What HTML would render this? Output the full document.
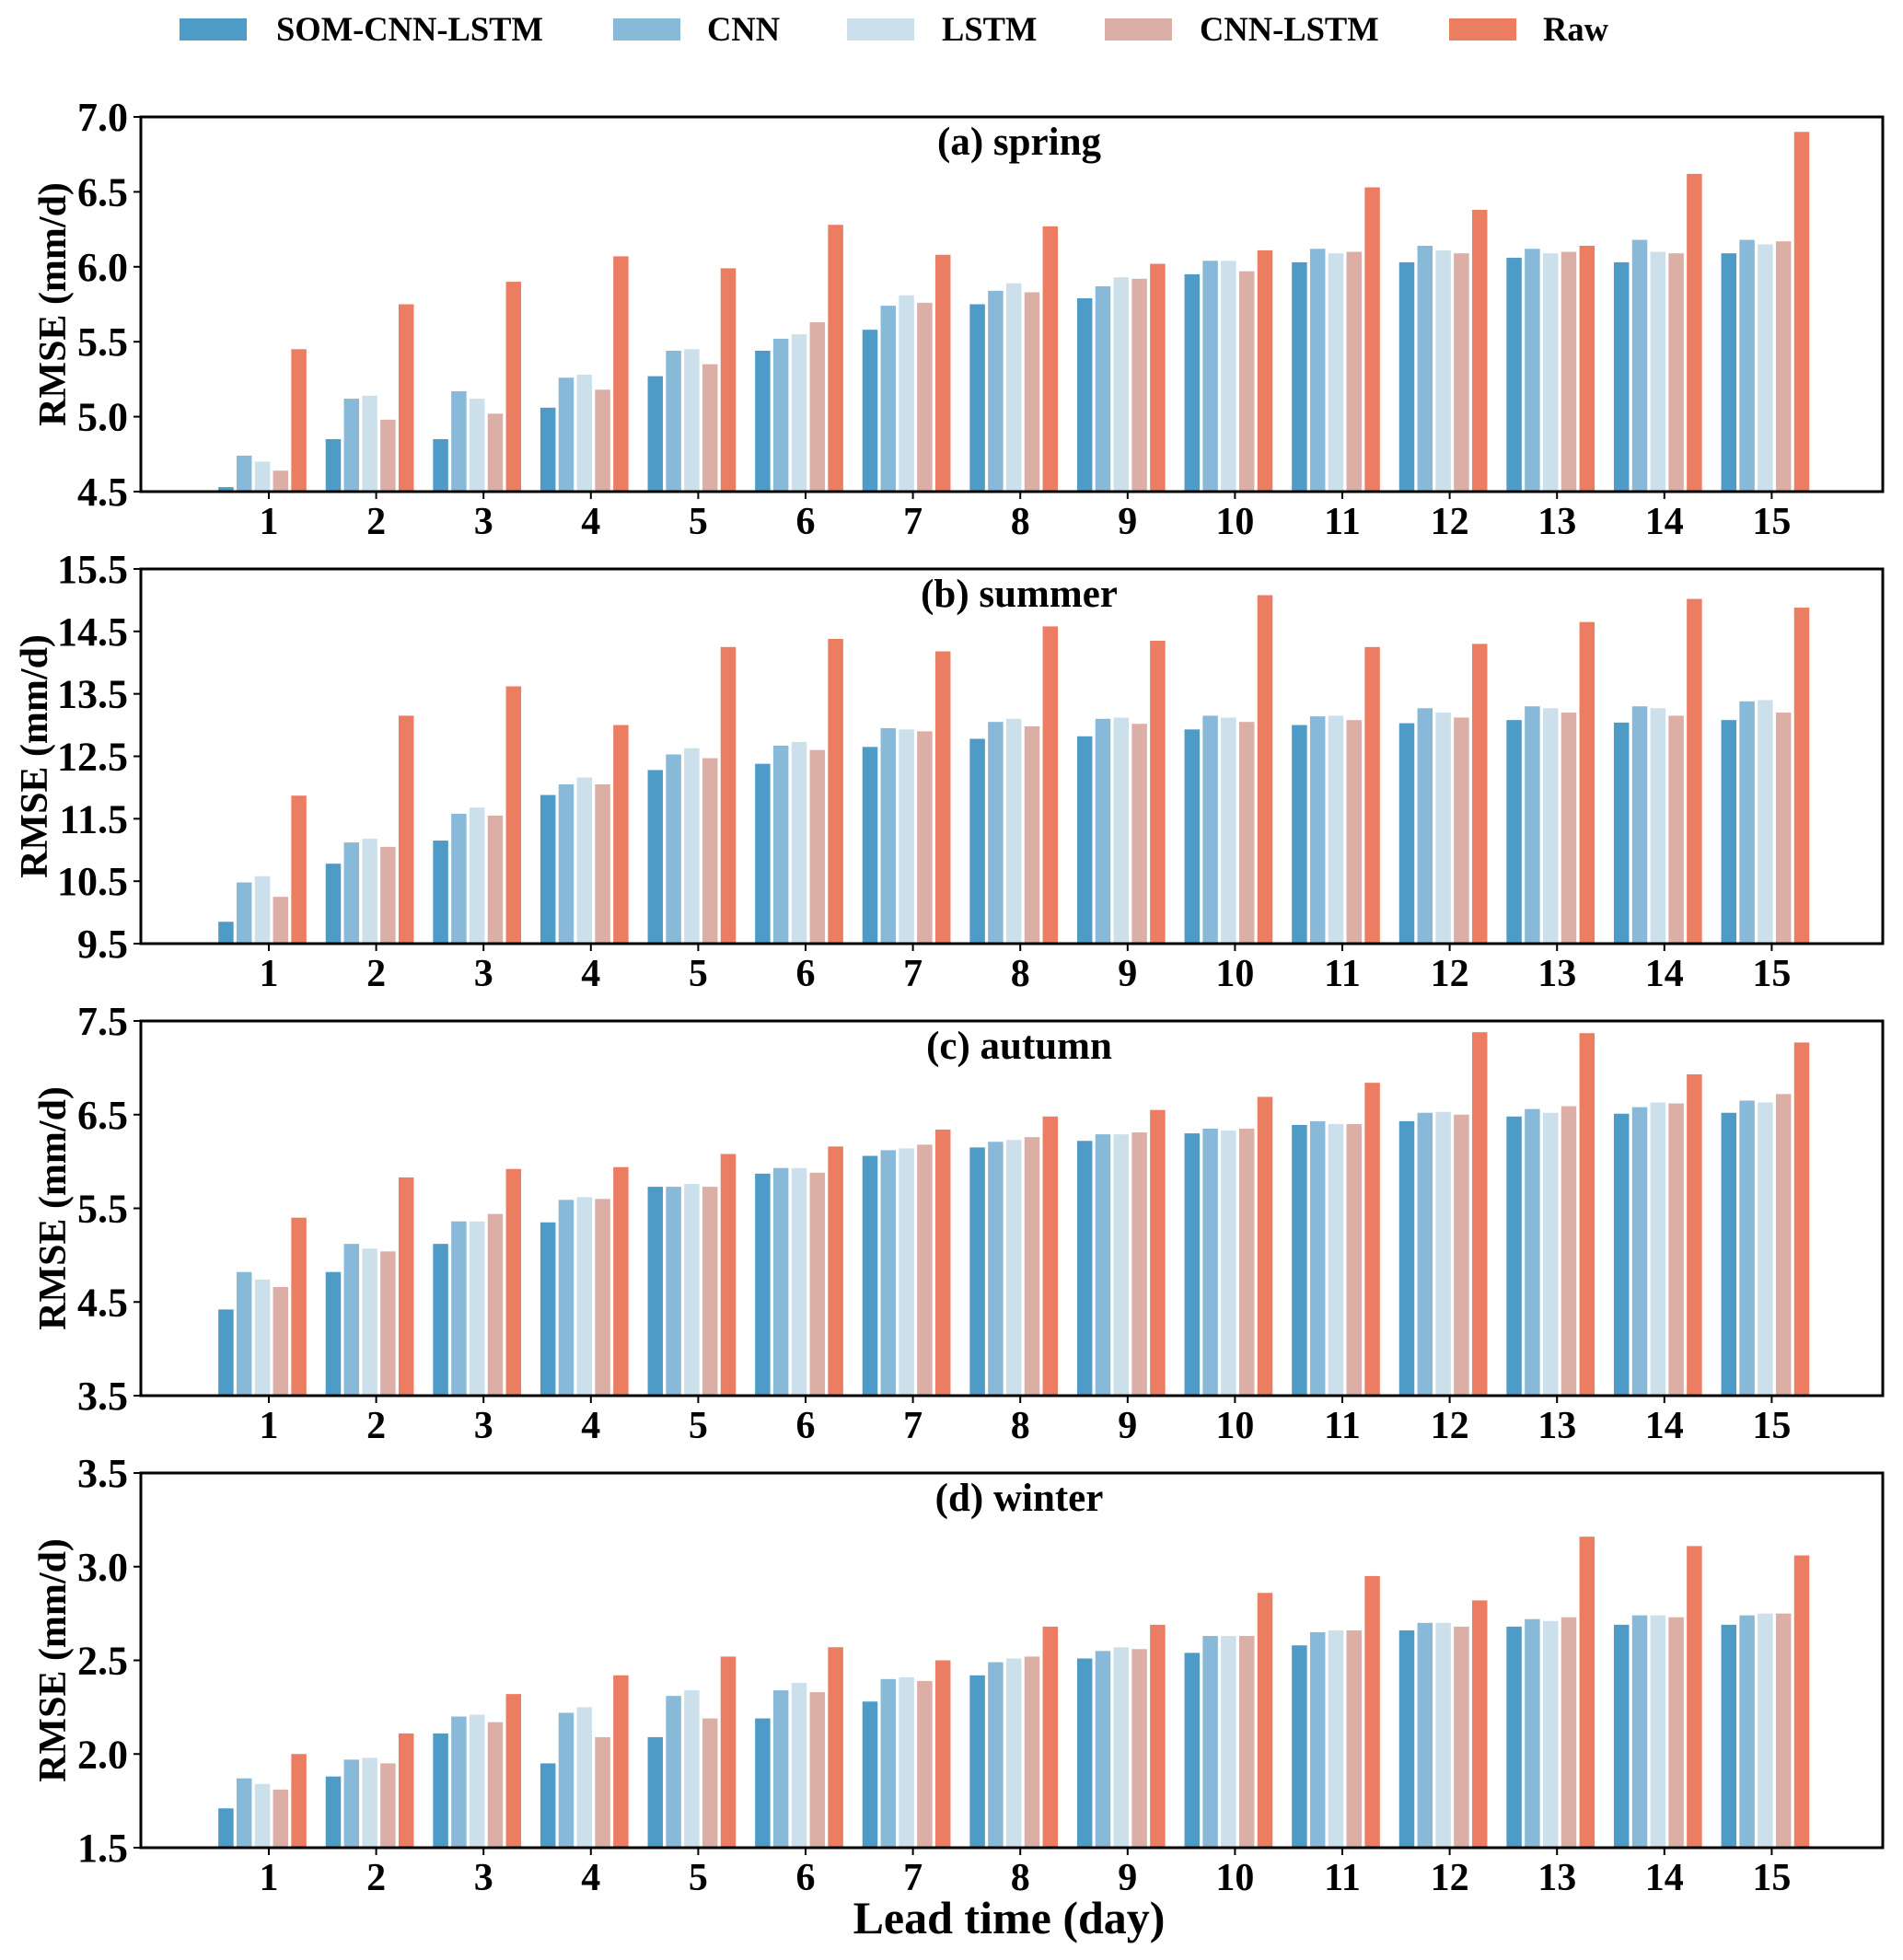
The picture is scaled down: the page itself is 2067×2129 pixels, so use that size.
<!DOCTYPE html>
<html><head><meta charset="utf-8"><style>
html,body{margin:0;padding:0;background:#fff;}
svg{display:block;}
text{font-family:"Liberation Serif","DejaVu Serif",serif;font-weight:bold;fill:#000;}
</style></head><body>
<svg id="chart" width="2067" height="2129" viewBox="0 0 2067 2129" xmlns="http://www.w3.org/2000/svg"></svg>
<script>
const categories = [1,2,3,4,5,6,7,8,9,10,11,12,13,14,15];
const seriesNames = ["SOM-CNN-LSTM","CNN","LSTM","CNN-LSTM","Raw"];
const seriesColors = ["#4f9bc8","#88b9d8","#cce0ec","#dcafa6","#eb7d63"];

const springSOM = [4.53,4.85,4.85,5.06,5.27,5.44,5.58,5.75,5.79,5.95,6.03,6.03,6.06,6.03,6.09];
const springCNN = [4.74,5.12,5.17,5.26,5.44,5.52,5.74,5.84,5.87,6.04,6.12,6.14,6.12,6.18,6.18];
const springLSTM = [4.70,5.14,5.12,5.28,5.45,5.55,5.81,5.89,5.93,6.04,6.09,6.11,6.09,6.10,6.15];
const springCNNLSTM = [4.64,4.98,5.02,5.18,5.35,5.63,5.76,5.83,5.92,5.97,6.10,6.09,6.10,6.09,6.17];
const springRaw = [5.45,5.75,5.90,6.07,5.99,6.28,6.08,6.27,6.02,6.11,6.53,6.38,6.14,6.62,6.90];

const summerSOM = [9.85,10.78,11.15,11.88,12.28,12.38,12.65,12.78,12.82,12.93,13.00,13.03,13.08,13.04,13.08];
const summerCNN = [10.48,11.12,11.58,12.05,12.53,12.67,12.95,13.05,13.10,13.15,13.14,13.27,13.30,13.30,13.38];
const summerLSTM = [10.58,11.18,11.68,12.16,12.63,12.73,12.93,13.10,13.12,13.12,13.15,13.20,13.27,13.27,13.40];
const summerCNNLSTM = [10.25,11.05,11.55,12.05,12.47,12.60,12.90,12.98,13.02,13.05,13.08,13.12,13.20,13.15,13.20];
const summerRaw = [11.87,13.15,13.62,13.00,14.25,14.38,14.18,14.58,14.35,15.08,14.25,14.30,14.65,15.02,14.88];

const autumnSOM = [4.42,4.82,5.12,5.35,5.73,5.87,6.06,6.15,6.22,6.30,6.39,6.43,6.48,6.51,6.52];
const autumnCNN = [4.82,5.12,5.36,5.59,5.73,5.93,6.12,6.21,6.29,6.35,6.43,6.52,6.56,6.58,6.65];
const autumnLSTM = [4.74,5.07,5.36,5.62,5.76,5.93,6.14,6.23,6.29,6.33,6.40,6.53,6.52,6.63,6.63];
const autumnCNNLSTM = [4.66,5.04,5.44,5.60,5.73,5.88,6.18,6.26,6.31,6.35,6.40,6.50,6.59,6.62,6.72];
const autumnRaw = [5.40,5.83,5.92,5.94,6.08,6.16,6.34,6.48,6.55,6.69,6.84,7.38,7.37,6.93,7.27];

const winterSOM = [1.71,1.88,2.11,1.95,2.09,2.19,2.28,2.42,2.51,2.54,2.58,2.66,2.68,2.69,2.69];
const winterCNN = [1.87,1.97,2.20,2.22,2.31,2.34,2.40,2.49,2.55,2.63,2.65,2.70,2.72,2.74,2.74];
const winterLSTM = [1.84,1.98,2.21,2.25,2.34,2.38,2.41,2.51,2.57,2.63,2.66,2.70,2.71,2.74,2.75];
const winterCNNLSTM = [1.81,1.95,2.17,2.09,2.19,2.33,2.39,2.52,2.56,2.63,2.66,2.68,2.73,2.73,2.75];
const winterRaw = [2.00,2.11,2.32,2.42,2.52,2.57,2.50,2.68,2.69,2.86,2.95,2.82,3.16,3.11,3.06];

const springTicks = ["4.5","5.0","5.5","6.0","6.5","7.0"];
const summerTicks = ["9.5","10.5","11.5","12.5","13.5","14.5","15.5"];
const autumnTicks = ["3.5","4.5","5.5","6.5","7.5"];
const winterTicks = ["1.5","2.0","2.5","3.0","3.5"];
const panelTitles = ["(a) spring","(b) summer","(c) autumn","(d) winter"];
const panelKeys = ["spring","summer","autumn","winter"];

const panelSeries = [
  [springSOM,springCNN,springLSTM,springCNNLSTM,springRaw],
  [summerSOM,summerCNN,summerLSTM,summerCNNLSTM,summerRaw],
  [autumnSOM,autumnCNN,autumnLSTM,autumnCNNLSTM,autumnRaw],
  [winterSOM,winterCNN,winterLSTM,winterCNNLSTM,winterRaw]
];
const panelTicks = [springTicks,summerTicks,autumnTicks,winterTicks];

const NS = "http://www.w3.org/2000/svg";
const svg = document.getElementById("chart");
function mk(tag, attrs, parent){
  const e = document.createElementNS(NS, tag);
  for (const k in attrs) e.setAttribute(k, attrs[k]);
  (parent||svg).appendChild(e);
  return e;
}

const L = 153, R = 2045;
const tick1 = 292, tickStep = 116.6;
const barStep = 19.8, barW = 16.5, barOff = -7;
function xScale(i){ return tick1 + i*tickStep; }
const panelTop0 = 127, panelH = 407, pitch = 491;
const ylabX = [57,37,57,57];

// legend
const legPatchX = [195,666,920,1200,1574];
const legTextX = [300,768,1023,1303,1676];
for (let s=0;s<5;s++){
  const p = mk("rect",{x:legPatchX[s],y:20,width:73,height:24,fill:seriesColors[s]});
  
  
  const t = mk("text",{x:legTextX[s],y:44,"font-size":36.5});
  t.textContent = seriesNames[s];
  
  
}

for (let p=0;p<4;p++){
  const top = panelTop0 + p*pitch, bot = top + panelH;
  const ticks = panelTicks[p];
  const ymin = parseFloat(ticks[0]), ymax = parseFloat(ticks[ticks.length-1]);
  const yScale = v => bot - (v - ymin)/(ymax - ymin)*panelH;
  const g = mk("g",{});
  
  

  const series = panelSeries[p];
  for (let s=0;s<5;s++){
    for (let i=0;i<categories.length;i++){
      const cx = xScale(i) + barOff + (s-2)*barStep;
      const y = yScale(series[s][i]);
      const r = mk("rect",{x:(cx-barW/2).toFixed(2),y:y.toFixed(2),width:barW,height:Math.max(0,bot-y).toFixed(2),fill:seriesColors[s]},g);
      
      
    }
  }
  const frame = mk("rect",{x:L,y:top,width:R-L,height:panelH,fill:"none",stroke:"#000","stroke-width":3},g);
  
  

  for (let k=0;k<ticks.length;k++){
    const y = yScale(parseFloat(ticks[k]));
    mk("line",{x1:L-8,x2:L,y1:y,y2:y,stroke:"#000","stroke-width":2},g);
    const t = mk("text",{x:L-14,y:y+15,"font-size":44,"text-anchor":"end"},g);
    t.textContent = ticks[k];
    
    
  }
  for (let i=0;i<categories.length;i++){
    const x = xScale(i);
    mk("line",{x1:x,x2:x,y1:bot,y2:bot+8,stroke:"#000","stroke-width":2},g);
    const t = mk("text",{x:x,y:bot+46,"font-size":42,"text-anchor":"middle"},g);
    t.textContent = categories[i];
    
    
  }
  const title = mk("text",{x:(L+R)/2+8,y:top+41,"font-size":43,"text-anchor":"middle"},g);
  title.textContent = panelTitles[p];
  
  

  const cy = (top+bot)/2;
  const yl = mk("text",{x:ylabX[p],y:cy,"font-size":42,"text-anchor":"middle",transform:`rotate(-90 ${ylabX[p]} ${cy}) translate(0 14)`},g);
  yl.textContent = "RMSE (mm/d)";
  
  
}

const xl = mk("text",{x:1096,y:2100,"font-size":50,"text-anchor":"middle"});
xl.textContent = "Lead time (day)";


</script>
</body></html>
